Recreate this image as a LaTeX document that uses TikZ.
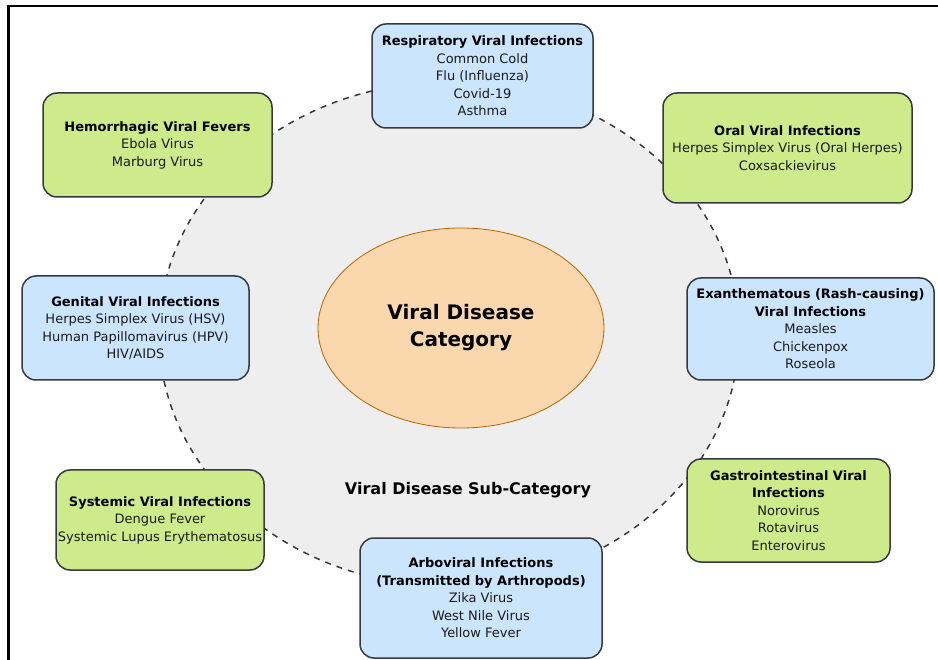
\documentclass[tikz,border=0pt]{standalone}
\usepackage{fontspec}
\setmainfont{DejaVu Sans}
\usetikzlibrary{shapes.geometric}

\definecolor{edgegray}{HTML}{36393D}
\definecolor{boxblue}{HTML}{CCE5FF}
\definecolor{boxgreen}{HTML}{CDEB8B}
\definecolor{ringgray}{HTML}{EEEEEE}
\definecolor{corefill}{HTML}{FAD7AC}
\definecolor{coreedge}{HTML}{B46504}
\definecolor{inktext}{HTML}{1A1A1A}

\tikzset{
  catbox/.style={draw=edgegray, line width=1.5pt, rounded corners=14pt,
    align=center, inner sep=0pt, text=inktext,
    font=\fontsize{13}{17.5}\selectfont},
  bluebox/.style={catbox, fill=boxblue},
  greenbox/.style={catbox, fill=boxgreen},
}
\newcommand{\hd}[1]{\textbf{\color{black}#1}}

\begin{document}
\begin{tikzpicture}[x=1pt,y=-1pt]
  \useasboundingbox (0,0) rectangle (938,660);

  % frame (top and left edges)
  \draw[line width=2.6pt, black] (938,6.2) -- (8.3,6.2) -- (8.3,660);

  % sub-category ring
  \node[ellipse, draw=edgegray, fill=ringgray, dashed, line width=1.5pt,
        dash pattern=on 6pt off 6pt,
        minimum width=580pt, minimum height=504pt, inner sep=0pt]
        (ring) at (449,334) {};

  % core category
  \node[ellipse, draw=coreedge, fill=corefill, line width=0.8pt,
        minimum width=286pt, minimum height=200pt, inner sep=0pt, align=center,
        font=\fontsize{20}{27}\selectfont\bfseries]
        (core) at (461,328) {Viral Disease\\Category};

  \node[font=\fontsize{16}{18}\selectfont\bfseries] (sublabel) at (468,490)
        {Viral Disease Sub-Category};

  % category boxes
  \node[bluebox, minimum width=221pt, minimum height=104pt] (resp) at (482.5,76)
    {\hd{Respiratory Viral Infections}\\Common Cold\\Flu (Influenza)\\Covid-19\\Asthma};

  \node[greenbox, minimum width=229pt, minimum height=104pt] (hemo) at (157.5,145)
    {\hd{Hemorrhagic Viral Fevers}\\Ebola Virus\\Marburg Virus};

  \node[greenbox, minimum width=249pt, minimum height=110pt] (oral) at (787.5,148)
    {\hd{Oral Viral Infections}\\Herpes Simplex Virus (Oral Herpes)\\Coxsackievirus};

  \node[bluebox, minimum width=227pt, minimum height=104pt] (genital) at (135.5,328)
    {\hd{Genital Viral Infections}\\Herpes Simplex Virus (HSV)\\Human Papillomavirus (HPV)\\HIV/AIDS};

  \node[bluebox, minimum width=247pt, minimum height=102pt] (exan) at (810.5,329)
    {\hd{Exanthematous (Rash-causing)}\\\hd{Viral Infections}\\Measles\\Chickenpox\\Roseola};

  \node[greenbox, minimum width=208pt, minimum height=100pt] (syst) at (160,520)
    {\hd{Systemic Viral Infections}\\Dengue Fever\\Systemic Lupus Erythematosus};

  \node[greenbox, minimum width=203pt, minimum height=103pt] (gastro) at (788.5,510.5)
    {\hd{Gastrointestinal Viral}\\\hd{Infections}\\Norovirus\\Rotavirus\\Enterovirus};

  \node[bluebox, minimum width=242pt, minimum height=120pt] (arbo) at (481,598)
    {\hd{Arboviral Infections}\\\hd{(Transmitted by Arthropods)}\\Zika Virus\\West Nile Virus\\Yellow Fever};
\end{tikzpicture}
\end{document}
